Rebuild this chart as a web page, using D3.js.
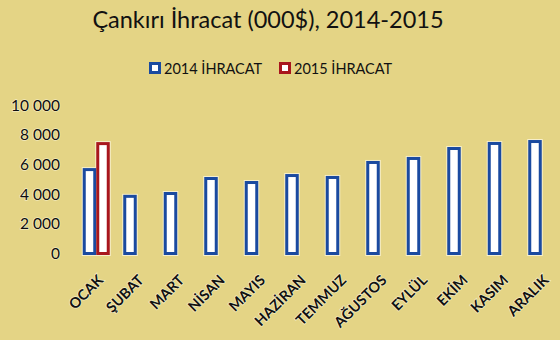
<!DOCTYPE html>
<html lang="tr">
  <head>
    <meta charset="UTF-8" />
    <script src="https://cdn.jsdelivr.net/npm/d3@7"></script>
    <style>
      * {
        margin: 0;
        padding: 0;
      }
      body {
        background: #e4d485;
      }
      svg {
        display: block;
        font-family: Lato, 'Noto Sans', sans-serif;
      }
    </style>
    <title>Çankırı İhracat</title>
  </head>
  <body>
    <div id="container"></div>
  </body>
  <script>
    const months = [
      'OCAK', 'ŞUBAT', 'MART', 'NİSAN', 'MAYIS', 'HAZİRAN',
      'TEMMUZ', 'AĞUSTOS', 'EYLÜL', 'EKİM', 'KASIM', 'ARALIK',
    ];
    const years = ['2014 İHRACAT', '2015 İHRACAT'];
    const export2014 = [5650, 3850, 4040, 5050, 4780, 5250, 5120, 6130, 6400, 7070, 7410, 7540];
    const export2015 = [7400];
    const yTicks = [0, 2000, 4000, 6000, 8000, 10000];

    const width = 560;
    const height = 340;
    const colorMap = {
      '2014 İHRACAT': '#1a4aa0',
      '2015 İHRACAT': '#a8161d',
    };

    const svg = d3
      .select('#container')
      .append('svg')
      .attr('width', width)
      .attr('height', height);

    svg
      .append('rect')
      .attr('width', width)
      .attr('height', height)
      .attr('fill', '#e4d485');

    // title
    svg
      .append('text')
      .text('Çankırı İhracat (000$), 2014-2015')
      .attr('x', 268)
      .attr('y', 28)
      .attr('text-anchor', 'middle')
      .attr('font-size', 23.5)
      .attr('fill', '#111');

    const x0 = d3.scaleBand().domain(months).range([76, 562]);
    const bw = x0.bandwidth();
    const x1 = d3.scaleBand().domain(years).range([bw / 6, (bw * 5) / 6]);
    const y = d3.scaleLinear().domain([0, 10000]).range([253.5, 105]);

    const fmt = (d) => d3.format(',')(d).replace(',', ' ');

    // y axis labels
    svg
      .append('g')
      .selectAll('text')
      .data(yTicks)
      .join('text')
      .attr('x', 60)
      .attr('y', (d) => y(d))
      .attr('dy', '0.36em')
      .attr('text-anchor', 'end')
      .attr('font-size', 15.5)
      .attr('fill', '#0d0d0d')
      .attr('stroke', '#f3eac0')
      .attr('stroke-width', 1.5)
      .attr('paint-order', 'stroke')
      .text(fmt);

    // bars
    const bars = [];
    months.forEach((m, i) => {
      if (export2014[i] != null) bars.push({ m, s: years[0], v: export2014[i] });
      if (export2015[i] != null) bars.push({ m, s: years[1], v: export2015[i] });
    });

    const barG = svg.append('g');
    // soft light rim
    barG
      .selectAll('rect.rim')
      .data(bars)
      .join('rect')
      .attr('class', 'rim')
      .attr('x', (d) => x0(d.m) + x1(d.s) + 1.5)
      .attr('y', (d) => y(d.v))
      .attr('width', x1.bandwidth() - 3)
      .attr('height', (d) => y(0) - y(d.v))
      .attr('fill', 'none')
      .attr('stroke', '#f6efcc')
      .attr('stroke-width', 5);
    barG
      .selectAll('rect.bar')
      .data(bars)
      .join('rect')
      .attr('class', 'bar')
      .attr('x', (d) => x0(d.m) + x1(d.s) + 1.5)
      .attr('y', (d) => y(d.v))
      .attr('width', x1.bandwidth() - 3)
      .attr('height', (d) => y(0) - y(d.v))
      .attr('fill', '#fff')
      .attr('stroke', (d) => colorMap[d.s])
      .attr('stroke-width', 3);

    // x axis labels
    svg
      .append('g')
      .selectAll('text')
      .data(months)
      .join('text')
      .attr(
        'transform',
        (d) => `translate(${x0(d) + bw / 2 + 8},${281}) rotate(-45)`
      )
      .attr('text-anchor', 'end')
      .attr('font-size', 14.5)
      .attr('font-weight', 'bold')
      .attr('fill', '#111')
      .attr('stroke', '#f3eac0')
      .attr('stroke-width', 1.5)
      .attr('paint-order', 'stroke')
      .text((d) => d);

    // legend
    const legend = svg
      .append('g')
      .selectAll('g')
      .data(years)
      .join('g')
      .attr('transform', (d, i) => `translate(${149 + i * 130},62)`);
    legend
      .append('rect')
      .attr('x', 1.5)
      .attr('y', 1.5)
      .attr('width', 9)
      .attr('height', 9)
      .attr('fill', '#fff')
      .attr('stroke', (d) => colorMap[d])
      .attr('stroke-width', 3);
    legend
      .append('text')
      .attr('x', 15)
      .attr('y', 12)
      .attr('font-size', 14.5)
      .attr('fill', '#111')
      .text((d) => d);
  </script>
</html>
